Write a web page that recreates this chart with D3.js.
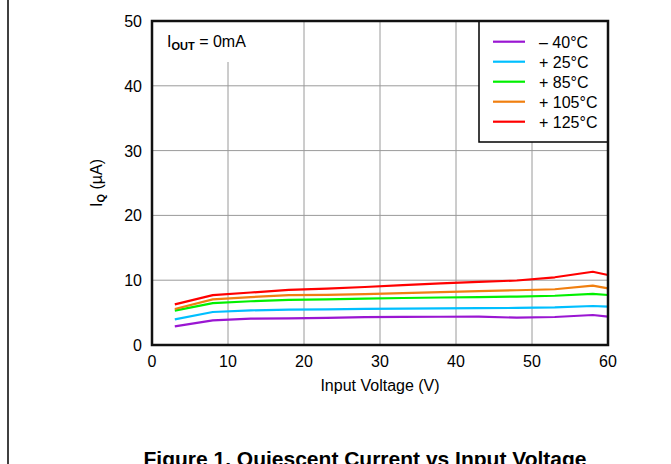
<!DOCTYPE html>
<html><head><meta charset="utf-8">
<script src="https://cdn.jsdelivr.net/npm/d3@7"></script>
<style>body{margin:0;background:#fff}svg{display:block;font-family:Arial,"Liberation Sans",sans-serif}</style>
</head><body>
<svg id="c" width="671" height="464"></svg>
<script>
const xVals = [3, 8, 13, 18, 23, 28, 33, 38, 43, 48, 53, 58, 60];
const seriesNames = ["\u2013 40\u00B0C", "+ 25\u00B0C", "+ 85\u00B0C", "+ 105\u00B0C", "+ 125\u00B0C"];
const seriesColors = ["#9a16d2", "#00bfff", "#00f000", "#f07f10", "#ff0000"];
const iqM40  = [2.88, 3.81, 4.06, 4.10, 4.20, 4.30, 4.33, 4.36, 4.37, 4.22, 4.32, 4.63, 4.37];
const iq25   = [3.96, 5.09, 5.35, 5.45, 5.50, 5.58, 5.62, 5.65, 5.68, 5.72, 5.80, 6.02, 5.92];
const iq85   = [5.30, 6.45, 6.75, 6.95, 7.05, 7.15, 7.25, 7.33, 7.40, 7.48, 7.60, 7.90, 7.72];
const iq105  = [5.56, 7.05, 7.40, 7.70, 7.75, 7.85, 8.00, 8.15, 8.30, 8.45, 8.60, 9.15, 8.75];
const iq125  = [6.27, 7.70, 8.10, 8.50, 8.70, 8.95, 9.25, 9.50, 9.75, 9.95, 10.45, 11.30, 10.80];
const seriesData = [iqM40, iq25, iq85, iq105, iq125];
const xTicks = [0, 10, 20, 30, 40, 50, 60];
const yTicks = [0, 10, 20, 30, 40, 50];

const svg = d3.select("#c");
const L = 152, R = 608, T = 21, B = 345;
const x = d3.scaleLinear().domain([0, 60]).range([L, R]);
const y = d3.scaleLinear().domain([0, 50]).range([B, T]);

// page border line on left
svg.append("line").attr("x1", 8).attr("x2", 8).attr("y1", 0).attr("y2", 464)
  .attr("stroke", "#000").attr("stroke-width", 1.5);

// gridlines
const g = svg.append("g");
g.selectAll(".vg").data(xTicks.filter(d => d > 0 && d < 60)).enter().append("line")
  .attr("x1", d => x(d)).attr("x2", d => x(d)).attr("y1", T).attr("y2", B)
  .attr("stroke", "#9a9a9a").attr("stroke-width", 1);
g.selectAll(".hg").data(yTicks.filter(d => d > 0 && d < 50)).enter().append("line")
  .attr("x1", L).attr("x2", R).attr("y1", d => y(d)).attr("y2", d => y(d))
  .attr("stroke", "#9a9a9a").attr("stroke-width", 1);

// annotation background box
svg.append("rect").attr("x", L + 1).attr("y", T + 1).attr("width", 140).attr("height", 40).attr("fill", "#fff");
const ann = svg.append("text").attr("x", 167).attr("y", 47).attr("font-size", 16).attr("fill", "#000");
ann.append("tspan").text("I");
ann.append("tspan").attr("font-size", 11).attr("font-weight", "bold").attr("dy", 3).text("OUT");
ann.append("tspan").attr("dy", -3).text(" = 0mA");

// series lines
const line = d3.line().x((d, i) => x(xVals[i])).y(d => y(d));
svg.selectAll(".s").data(seriesData).enter().append("path")
  .attr("d", d => line(d)).attr("fill", "none")
  .attr("stroke", (d, i) => seriesColors[i]).attr("stroke-width", 2.2)
  .attr("stroke-linejoin", "round");

// legend
const lg = svg.append("g");
lg.append("rect").attr("x", 479).attr("y", T).attr("width", R - 479).attr("height", 121)
  .attr("fill", "#fff").attr("stroke", "#000").attr("stroke-width", 1.5);
seriesNames.forEach((n, i) => {
  const yy = 41.7 + i * 20;
  lg.append("line").attr("x1", 493).attr("x2", 525).attr("y1", yy).attr("y2", yy)
    .attr("stroke", seriesColors[i]).attr("stroke-width", 2.2);
  lg.append("text").attr("x", 539).attr("y", yy + 6).attr("font-size", 16).text(n);
});

// frame
svg.append("rect").attr("x", L).attr("y", T).attr("width", R - L).attr("height", B - T)
  .attr("fill", "none").attr("stroke", "#111").attr("stroke-width", 2.5);

// tick labels
svg.selectAll(".xt").data(xTicks).enter().append("text")
  .attr("x", d => x(d)).attr("y", 367).attr("text-anchor", "middle").attr("font-size", 16).text(d => d);
svg.selectAll(".yt").data(yTicks).enter().append("text")
  .attr("x", 142).attr("y", d => y(d) + 6).attr("text-anchor", "end").attr("font-size", 16).text(d => d);

// axis titles
svg.append("text").attr("x", x(30)).attr("y", 391).attr("text-anchor", "middle").attr("font-size", 16)
  .text("Input Voltage (V)");
const yl = svg.append("text").attr("transform", "translate(102," + ((T + B) / 2) + ") rotate(-90)")
  .attr("text-anchor", "middle").attr("font-size", 16);
yl.append("tspan").text("I");
yl.append("tspan").attr("font-size", 11).attr("font-weight", "bold").attr("dy", 3).text("Q");
yl.append("tspan").attr("dy", -3).text(" (\u00B5A)");

// figure caption (cut off at the bottom edge, as in the reference)
svg.append("text").attr("x", 365).attr("y", 466).attr("text-anchor", "middle").attr("font-size", 21)
  .attr("font-weight", "bold").text("Figure 1. Quiescent Current vs Input Voltage");
</script>
</body></html>
